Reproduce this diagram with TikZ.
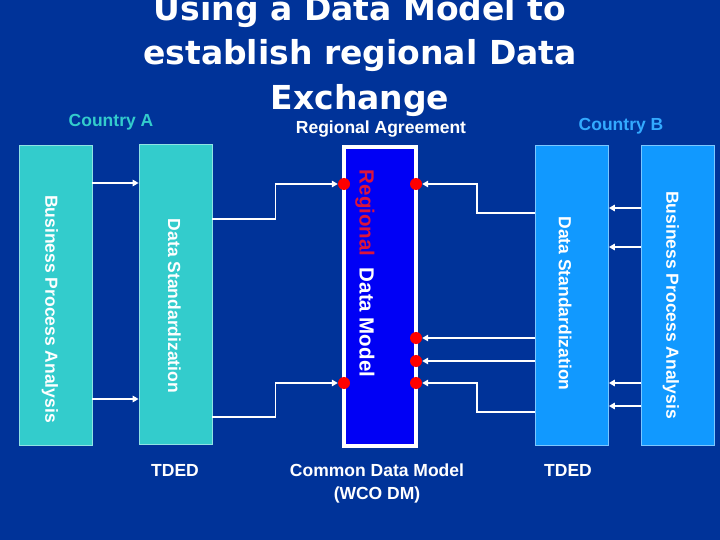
\documentclass[tikz,border=0pt]{standalone}
\usepackage{fontspec}
\setmainfont{Liberation Sans}
\newfontfamily\titlefont{DejaVu Sans}
\usetikzlibrary{arrows.meta}
\definecolor{bgblue}{RGB}{0,51,153}
\definecolor{turq}{RGB}{51,204,204}
\definecolor{skyb}{RGB}{17,153,255}
\definecolor{pureblue}{RGB}{0,0,245}
\definecolor{cntb}{RGB}{51,170,255}
\definecolor{regred}{RGB}{220,20,60}
\definecolor{dotred}{RGB}{255,0,0}
\tikzset{
  box/.style={draw=white!45!#1, line width=0.8pt, fill=#1, minimum width=73pt, minimum height=300pt, inner sep=0pt},
  vtext/.style={text=white, font=\fontsize{17.5}{20}\selectfont\bfseries, rotate=-90, inner sep=0pt},
  lbl/.style={text=white, font=\fontsize{17.5}{20}\selectfont\bfseries, inner sep=0pt, anchor=base},
  ttl/.style={text=white, font=\titlefont\fontsize{33}{40}\selectfont\bfseries, inner sep=0pt, anchor=base},
  arr/.style={draw=white, line width=1.5pt, -{Triangle[length=6pt,width=6.5pt]}},
  rdot/.style={circle, fill=dotred, minimum size=12pt, inner sep=0pt}
}
\begin{document}
\begin{tikzpicture}[x=1pt,y=-1pt]
\fill[bgblue] (0,0) rectangle (720,540);
\useasboundingbox (0,0) rectangle (720,540);

% title
\node[ttl] (t1) at (360,21) {Using a Data Model to};
\node[ttl] (t2) at (360,65) {establish regional Data};
\node[ttl] (t3) at (360,110) {Exchange};

\node[lbl, text=turq] (ca) at (111,127) {Country A};
\node[lbl, text=cntb] (cb) at (621,131) {Country B};
\node[lbl] (ra) at (381,134) {Regional Agreement};

% boxes
\node[box=turq] (bpaL) at (55.5,295) {};
\node[box=turq] (dsL) at (175.5,294) {};
\node[box=skyb] (dsR) at (572,295) {};
\node[box=skyb] (bpaR) at (677.5,295) {};
\node[draw=white, line width=4pt, fill=pureblue, minimum width=72pt, minimum height=299pt, inner sep=0pt] (cdm) at (380,296.5) {};

\node[vtext] (tbpaL) at (50,309) {Business Process Analysis};
\node[vtext] (tdsL) at (174.5,306) {Data Standardization};
\node[vtext] (tdsR) at (565,303.5) {Data Standardization};
\node[vtext] (tbpaR) at (671,305) {Business Process Analysis};
\node[vtext, font=\fontsize{20.5}{24}\selectfont\bfseries] (tcdm) at (365,273.5) {\textcolor{regred}{Regional}\ \ Data Model};

% bottom labels
\node[lbl] (tdedL) at (175,476) {TDED};
\node[lbl] (cdml) at (377,476) {Common Data Model};
\node[lbl] (wco) at (377,499) {(WCO DM)};
\node[lbl] (tdedR) at (568,476) {TDED};

% red dots
\node[rdot] (dL1) at (344,184) {};
\node[rdot] (dL2) at (344,383) {};
\node[rdot] (dR1) at (416,184) {};
\node[rdot] (dR2) at (416,338) {};
\node[rdot] (dR3) at (416,361) {};
\node[rdot] (dR4) at (416,383) {};

% left side
\draw[arr] (bpaL.east |- 0,183) -- (dsL.west |- 0,183);
\draw[arr] (bpaL.east |- 0,399) -- (dsL.west |- 0,399);
\draw[arr] (dsL.east |- 0,219) -- ++(63,0) |- (dL1);
\draw[arr] (dsL.east |- 0,417) -- ++(63,0) |- (dL2);

% right side
\draw[arr] (bpaR.west |- 0,208) -- (dsR.east |- 0,208);
\draw[arr] (bpaR.west |- 0,247) -- (dsR.east |- 0,247);
\draw[arr] (bpaR.west |- 0,383) -- (dsR.east |- 0,383);
\draw[arr] (bpaR.west |- 0,406) -- (dsR.east |- 0,406);
\draw[arr] (dsR.west |- 0,213) -- ++(-58,0) |- (dR1);
\draw[arr] (dsR.west |- dR2) -- (dR2);
\draw[arr] (dsR.west |- dR3) -- (dR3);
\draw[arr] (dsR.west |- 0,412) -- ++(-58,0) |- (dR4);
\end{tikzpicture}
\end{document}
